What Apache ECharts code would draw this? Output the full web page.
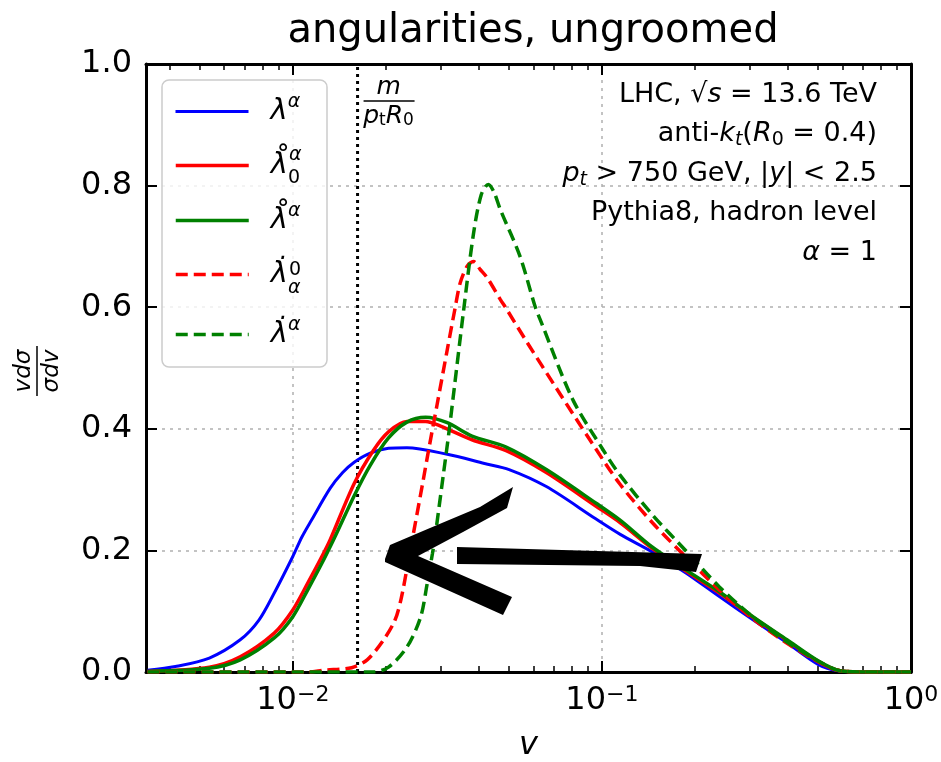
<!DOCTYPE html>
<html>
<head>
<meta charset="utf-8">
<title>angularities, ungroomed</title>
<script src="https://cdn.jsdelivr.net/npm/echarts@6/dist/echarts.min.js"></script>
<style>
  html, body { margin: 0; padding: 0; background: #fff; }
  #main { width: 941px; height: 762px; }
</style>
</head>
<body>
<div id="main"></div>
<script>
// values: x = v (log axis), y = v/sigma dsigma/dv
const names = ['λ^α', 'λ̊_0^α', 'λ̊^α', 'λ̇_α^0', 'λ̇^α'];

const lamV = [0.00339, 0.00417, 0.00537, 0.00676, 0.00776, 0.00871, 0.0100, 0.0107, 0.0115, 0.0132, 0.0145, 0.0158, 0.0178, 0.0204, 0.0234, 0.0316, 0.0417, 0.0501, 0.0661, 0.0955, 0.115, 0.145, 0.187, 0.240, 0.308, 0.397, 0.502, 0.58, 0.71, 1.0];
const lamY = [0.003, 0.009, 0.023, 0.053, 0.085, 0.13, 0.19, 0.222, 0.25, 0.302, 0.328, 0.345, 0.36, 0.368, 0.369, 0.358, 0.343, 0.333, 0.305, 0.252, 0.226, 0.198, 0.163, 0.124, 0.086, 0.048, 0.012, 0.002, 0, 0];

const ring0V = [0.00339, 0.00537, 0.00676, 0.00871, 0.0100, 0.0112, 0.0126, 0.0132, 0.0158, 0.0182, 0.0204, 0.0234, 0.0269, 0.0302, 0.0380, 0.0490, 0.0661, 0.0955, 0.115, 0.145, 0.187, 0.240, 0.308, 0.397, 0.502, 0.589, 0.71, 1.0];
const ring0Y = [0.001, 0.008, 0.025, 0.064, 0.102, 0.147, 0.196, 0.217, 0.31, 0.364, 0.395, 0.412, 0.412, 0.404, 0.382, 0.364, 0.328, 0.273, 0.245, 0.204, 0.166, 0.13, 0.09, 0.052, 0.017, 0.002, 0, 0];

const ringV = [0.00339, 0.00537, 0.00676, 0.00871, 0.0100, 0.0112, 0.0126, 0.0138, 0.0158, 0.0178, 0.0204, 0.0234, 0.0269, 0.0316, 0.0380, 0.0490, 0.0661, 0.0955, 0.115, 0.145, 0.187, 0.240, 0.308, 0.397, 0.502, 0.589, 0.71, 1.0];
const ringY = [0.001, 0.006, 0.02, 0.056, 0.091, 0.136, 0.185, 0.226, 0.29, 0.34, 0.385, 0.411, 0.419, 0.41, 0.388, 0.37, 0.333, 0.278, 0.249, 0.206, 0.168, 0.132, 0.091, 0.053, 0.018, 0.002, 0, 0];

const dot0V = [0.00339, 0.0112, 0.0126, 0.0155, 0.0174, 0.0195, 0.0214, 0.0224, 0.0234, 0.0245, 0.0263, 0.0275, 0.0293, 0.0316, 0.0334, 0.0348, 0.0367, 0.0384, 0.0404, 0.0426, 0.0469, 0.0490, 0.0573, 0.0716, 0.0914, 0.114, 0.146, 0.188, 0.240, 0.307, 0.395, 0.505, 0.589, 0.71, 1.0];
const dot0Y = [0, 0, 0.003, 0.007, 0.02, 0.05, 0.085, 0.12, 0.17, 0.225, 0.31, 0.365, 0.44, 0.53, 0.595, 0.64, 0.668, 0.675, 0.662, 0.648, 0.613, 0.598, 0.542, 0.465, 0.382, 0.31, 0.245, 0.188, 0.135, 0.088, 0.048, 0.016, 0.002, 0, 0];

const dotV = [0.00339, 0.0182, 0.0204, 0.0234, 0.0259, 0.0272, 0.0283, 0.0289, 0.0307, 0.0321, 0.0356, 0.0384, 0.0407, 0.0429, 0.0447, 0.0469, 0.0543, 0.0608, 0.0631, 0.0805, 0.1007, 0.114, 0.146, 0.188, 0.240, 0.307, 0.395, 0.505, 0.589, 0.71, 1.0];
const dotY = [0, 0, 0.008, 0.041, 0.09, 0.145, 0.195, 0.225, 0.325, 0.4, 0.59, 0.72, 0.785, 0.802, 0.79, 0.761, 0.684, 0.601, 0.58, 0.448, 0.366, 0.325, 0.258, 0.198, 0.14, 0.091, 0.05, 0.017, 0.002, 0, 0];

const mLine = 0.0162;   // m / (p_t R_0)
const xMin = 0.00335, xMax = 1;
const xMinor = [0.004, 0.005, 0.006, 0.007, 0.008, 0.009, 0.02, 0.03, 0.04, 0.05, 0.06, 0.07, 0.08, 0.09, 0.2, 0.3, 0.4, 0.5, 0.6, 0.7, 0.8, 0.9];
const infoLines = [
  'LHC, √{i|s} = 13.6 TeV',
  'anti-{i|k}{si|t}({i|R}{s|0} = 0.4)',
  '{i|p}{si|t} > 750 GeV, |{i|y}| < 2.5',
  'Pythia8, hadron level',
  '{i|α} = 1'
];

const FONT = 'DejaVu Sans';

const legendLabels = {
  'λ^α': '{l|λ}{sup|α}',
  'λ̊_0^α': '{l|λ\u030A}{subz|0}{sup2|α}',
  'λ̊^α': '{l|λ\u030A}{sup|α}',
  'λ̇_α^0': '{l|λ\u0307}{subz2|α}{sup3|0}',
  'λ̇^α': '{l|λ\u0307}{sup|α}'
};
const legendTops = [93, 143, 202, 251, 316];

function pairs(xs, ys) { return xs.map((x, i) => [x, ys[i]]); }

const defs = [
  { v: lamV, y: lamY, color: '#0000ff', width: 3, type: 'solid' },
  { v: ring0V, y: ring0Y, color: '#ff0000', width: 3.5, type: 'solid' },
  { v: ringV, y: ringY, color: '#008000', width: 3.5, type: 'solid' },
  { v: dot0V, y: dot0Y, color: '#ff0000', width: 3.5, type: [12, 6] },
  { v: dotV, y: dotY, color: '#008000', width: 3.5, type: [12, 6] }
];

const series = defs.map((d, i) => ({
  name: names[i],
  type: 'line',
  xAxisIndex: 0,
  yAxisIndex: 0,
  symbol: 'none',
  smooth: 0.3,
  data: pairs(d.v, d.y),
  itemStyle: { color: d.color },
  lineStyle: { color: d.color, width: d.width, type: d.type },
  z: 3 + i
}));
// vertical dotted line at m/(p_t R_0)
series.push({
  name: 'm/(p_t R_0)',
  type: 'line',
  symbol: 'none',
  silent: true,
  data: [[mLine, 0], [mLine, 1]],
  lineStyle: { color: '#000', width: 3, type: [3, 4] },
  z: 2
});

const gridLine = { show: true, lineStyle: { color: '#b0b0b0', width: 1.5, type: [3, 5] } };
const frame = { show: true, lineStyle: { color: '#000', width: 3 } };

function supExp(val) {
  const e = Math.round(Math.log10(val));
  return '{b|10}{e|' + (e < 0 ? '\u2212' + (-e) : String(e)) + '}';
}

const legendRich = {
  l: { fontSize: 29, fontStyle: 'italic', lineHeight: 44, padding: [0, 0, 0, 17] },
  sup: { fontSize: 19, fontStyle: 'italic', lineHeight: 20, padding: [0, 0, 18, 0] },
  sup2: { fontSize: 19, fontStyle: 'italic', lineHeight: 20, padding: [0, 0, 20, 0] },
  sup3: { fontSize: 19, lineHeight: 20, padding: [0, 0, 8, 0] },
  subz: { fontSize: 19, lineHeight: 16, width: 1, padding: [26, 0, 0, 0] },
  subz2: { fontSize: 19, fontStyle: 'italic', lineHeight: 16, width: 1, padding: [28, 0, 0, 0] }
};

const legends = names.map((n, i) => ({
  orient: 'vertical', left: 174, top: legendTops[i], padding: 0,
  itemWidth: 73, itemHeight: 14, selectedMode: false, z: 20,
  data: [n],
  formatter: k => legendLabels[k],
  itemStyle: { opacity: 0 },
  lineStyle: { width: defs[i].width },
  textStyle: { fontFamily: FONT, fontSize: 29, color: '#000', rich: legendRich }
}));

const option = {
  animation: false,
  backgroundColor: '#fff',
  title: {
    text: 'angularities, ungroomed',
    left: 528, top: 7, textAlign: 'center',
    textStyle: { fontFamily: FONT, fontSize: 40, fontWeight: 'normal', color: '#000' }
  },
  grid: { left: 146, top: 64, width: 765, height: 608, outerBoundsMode: 'none' },
  xAxis: [
    {
      type: 'log', logBase: 10, min: xMin, max: xMax, position: 'bottom',
      axisLine: frame,
      axisTick: { inside: true, length: 11, lineStyle: { color: '#000', width: 2 } },
      axisLabel: {
        showMinLabel: false, margin: 12, color: '#000', fontFamily: FONT,
        formatter: supExp,
        rich: {
          b: { fontSize: 32, fontFamily: FONT, color: '#000' },
          e: { fontSize: 22, fontFamily: FONT, color: '#000', padding: [0, 0, 12, 0] }
        }
      },
      splitLine: gridLine,
      name: 'v', nameLocation: 'middle', nameGap: 58,
      nameTextStyle: { fontFamily: FONT, fontSize: 32, fontStyle: 'italic', color: '#000' }
    },
    {
      type: 'log', logBase: 10, min: xMin, max: xMax, position: 'bottom', gridIndex: 0,
      axisLine: { show: false },
      axisTick: { inside: true, length: 6, customValues: xMinor, lineStyle: { color: '#000', width: 1.5 } },
      axisLabel: { show: false }, splitLine: { show: false }
    },
    {
      type: 'log', logBase: 10, min: xMin, max: xMax, position: 'top', gridIndex: 0,
      axisLine: frame,
      axisTick: { inside: true, length: 11, lineStyle: { color: '#000', width: 2 } },
      axisLabel: { show: false }, splitLine: { show: false }
    },
    {
      type: 'log', logBase: 10, min: xMin, max: xMax, position: 'top', gridIndex: 0,
      axisLine: { show: false },
      axisTick: { inside: true, length: 6, customValues: xMinor, lineStyle: { color: '#000', width: 1.5 } },
      axisLabel: { show: false }, splitLine: { show: false }
    }
  ],
  yAxis: [
    {
      type: 'value', min: 0, max: 1, interval: 0.2, position: 'left',
      axisLine: frame,
      axisTick: { inside: true, length: 11, lineStyle: { color: '#000', width: 2 } },
      axisLabel: { margin: 14, color: '#000', fontFamily: FONT, fontSize: 32, formatter: v => v.toFixed(1) },
      splitLine: gridLine
    },
    {
      type: 'value', min: 0, max: 1, interval: 0.2, position: 'right',
      axisLine: frame,
      axisTick: { inside: true, length: 11, lineStyle: { color: '#000', width: 2 } },
      axisLabel: { show: false }, splitLine: { show: false }
    }
  ],
  legend: legends,
  series: series
};

const chart = echarts.init(document.getElementById('main'));
chart.setOption(option);

// annotations placed after layout
const xm = chart.convertToPixel({ xAxisIndex: 0 }, mLine);
const textRich = {
  i: { fontStyle: 'italic', fontFamily: FONT, fontSize: 27 },
  si: { fontStyle: 'italic', fontFamily: FONT, fontSize: 19, padding: [12, 0, 0, 0] },
  s: { fontFamily: FONT, fontSize: 19, padding: [12, 0, 0, 0] }
};
const infoY = [95, 134, 174, 213, 253];
const centered = { align: 'center', verticalAlign: 'middle', textAlign: 'center', textVerticalAlign: 'middle' };
const graphics = [
  {
    type: 'rect', z: 15, silent: true,
    shape: { x: 162, y: 80, width: 165, height: 287, r: 7 },
    style: { fill: 'rgba(255,255,255,0.8)', stroke: '#cccccc', lineWidth: 1.5 }
  },
  {
    type: 'group', x: 37, y: 371, rotation: Math.PI / 2,
    children: [
      { type: 'text', x: 0, y: -13, style: Object.assign({ text: 'vdσ', fontFamily: FONT, fontStyle: 'italic', fontSize: 23, fill: '#000' }, centered) },
      { type: 'line', shape: { x1: -25, y1: 0, x2: 25, y2: 0 }, style: { stroke: '#000', lineWidth: 1.5 } },
      { type: 'text', x: 0, y: 15, style: Object.assign({ text: 'σdv', fontFamily: FONT, fontStyle: 'italic', fontSize: 23, fill: '#000' }, centered) }
    ]
  },
  {
    type: 'group', x: xm + 31, y: 101,
    children: [
      { type: 'text', x: 0, y: -14, style: Object.assign({ text: 'm', fontFamily: FONT, fontStyle: 'italic', fontSize: 25, fill: '#000' }, centered) },
      { type: 'line', shape: { x1: -25, y1: 0, x2: 26, y2: 0 }, style: { stroke: '#000', lineWidth: 1.5 } },
      { type: 'text', x: 0, y: 15, style: Object.assign({
        text: '{i|p}{s|t}{i|R}{s|0}', fontFamily: FONT, fontSize: 25, fill: '#000',
        rich: {
          i: { fontStyle: 'italic', fontFamily: FONT, fontSize: 25 },
          s: { fontFamily: FONT, fontSize: 17, padding: [10, 0, 0, 0] }
        }
      }, centered) }
    ]
  },
  // hand-drawn arrow
  {
    type: 'polygon', z: 30, silent: true,
    shape: { points: [[385, 559], [390, 545], [430, 528], [480, 507], [513, 487], [507, 508], [463, 532], [418, 556], [512, 597], [503, 615], [385, 562]] },
    style: { fill: '#000' }
  },
  {
    type: 'polygon', z: 30, silent: true,
    shape: { points: [[457, 547], [702, 554], [696, 572], [640, 566], [457, 564]] },
    style: { fill: '#000' }
  }
];
infoLines.forEach((t, k) => {
  graphics.push({
    type: 'text', x: 877, y: infoY[k], z: 12,
    style: { text: t, fontFamily: FONT, fontSize: 27, fill: '#000', align: 'right', verticalAlign: 'middle', textAlign: 'right', textVerticalAlign: 'middle', rich: textRich }
  });
});
chart.setOption({ graphic: graphics });
</script>
</body>
</html>
